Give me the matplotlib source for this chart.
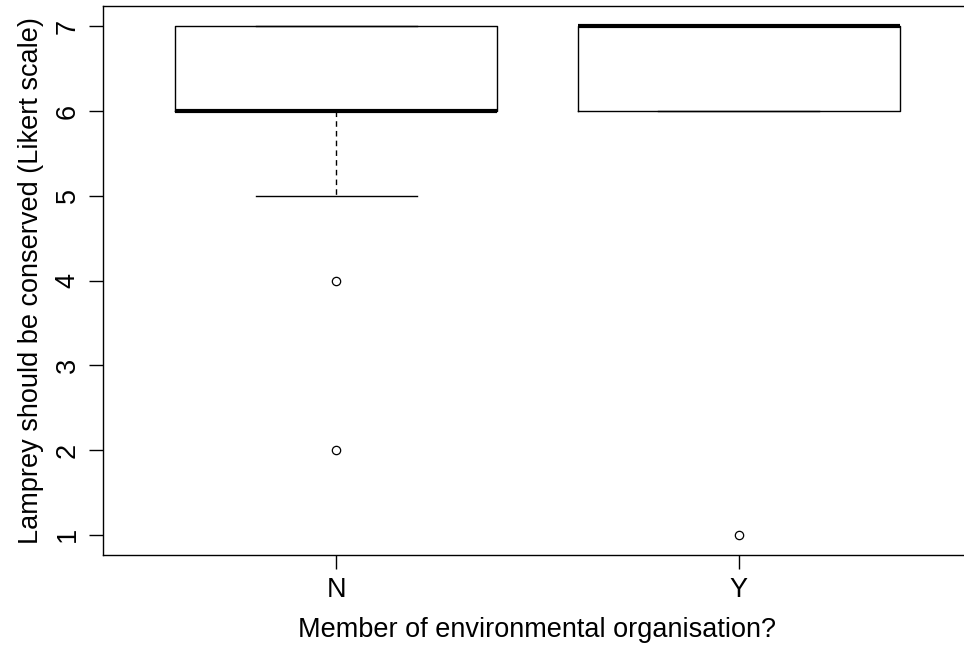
import matplotlib
matplotlib.use("Agg")
import matplotlib.pyplot as plt

plt.rcParams['font.family'] = ['Liberation Sans', 'DejaVu Sans']

# summary stats per group (Likert scale)
groups = ["N", "Y"]
q1 = [6, 6]
med = [6, 7]
q3 = [7, 7]
whislo = [5, 6]
whishi = [7, 7]
fliers = [[4, 2], [1]]

stats = []
for i in range(len(groups)):
    stats.append({
        "label": groups[i], "q1": q1[i], "med": med[i], "q3": q3[i],
        "whislo": whislo[i], "whishi": whishi[i], "fliers": fliers[i],
    })

fig = plt.figure(figsize=(9.64, 6.45), dpi=100)
ax = fig.add_axes([0.1068, 0.1395, 0.9015, 0.8512])

ax.bxp(stats, positions=[1, 2], widths=0.8,
       boxprops=dict(color="black", linewidth=1),
       medianprops=dict(color="black", linewidth=3, solid_capstyle="butt"),
       whiskerprops=dict(color="black", linewidth=1, linestyle=(0, (4, 3))),
       capprops=dict(color="black", linewidth=1),
       capwidths=0.4,
       flierprops=dict(marker="o", markersize=6, markerfacecolor="white",
                       markeredgecolor="black", markeredgewidth=0.9))

ax.set_xlim(0.42, 2.58)
ax.set_ylim(0.76, 7.24)
ax.set_yticks(range(1, 8))
ax.set_xticks([1, 2])
ax.set_xticklabels(groups)
for lab in ax.get_yticklabels():
    lab.set_rotation(90)
    lab.set_va("center")
ax.tick_params(labelsize=19.5, length=10, width=1, pad=6)
ax.set_xlabel("Member of environmental organisation?", fontsize=19.5, labelpad=10)
ax.set_ylabel("Lamprey should be conserved (Likert scale)", fontsize=19.5, labelpad=8)
ax.spines["right"].set_visible(False)
for s in ax.spines.values():
    s.set_linewidth(1)

fig.savefig("out.png", dpi=100)
